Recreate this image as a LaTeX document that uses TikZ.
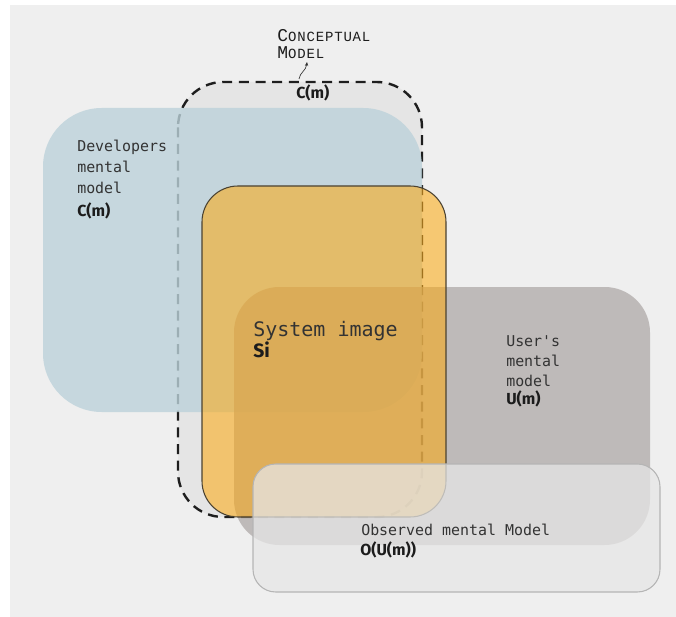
\documentclass[tikz,border=0pt]{standalone}
\usepackage{fontspec}
\setmonofont{DejaVu Sans Mono}
\newfontfamily\slabfont{Liberation Mono}[LetterSpace=6]
\newfontfamily\tagfont{Fira Sans}
\usetikzlibrary{arrows.meta}

\definecolor{paper}{HTML}{EFEFEF}
\definecolor{conceptfill}{HTML}{E5E5E5}
\definecolor{dashink}{HTML}{1E1E1E}
\definecolor{devblue}{HTML}{BCD2DA}
\definecolor{sysorange}{HTML}{FDA80D}
\definecolor{sysline}{HTML}{4A4232}
\definecolor{usergray}{HTML}{ACA6A5}
\definecolor{obsfill}{HTML}{E6E6E6}
\definecolor{obsline}{HTML}{B5B5B5}
\definecolor{ink}{HTML}{333333}
\definecolor{inkdark}{HTML}{1C1C1C}

\begin{document}
\begin{tikzpicture}[x=0.75pt,y=-0.75pt,
  txt/.style={anchor=base west, inner sep=0pt, text=ink,
    font=\ttfamily\fontsize{11.2}{13}\selectfont},
  bigtxt/.style={anchor=base west, inner sep=0pt, text=ink,
    font=\ttfamily\fontsize{15}{17}\selectfont},
  tag/.style={anchor=base west, inner sep=0pt, text=inkdark,
    font=\tagfont\bfseries\fontsize{12}{14}\selectfont},
  bigtag/.style={anchor=base west, inner sep=0pt, text=inkdark,
    font=\tagfont\bfseries\fontsize{14.5}{16}\selectfont},
  slab/.style={anchor=base west, inner sep=0pt, text=inkdark}]

% canvas
\fill[white] (0,0) rectangle (676,617);
\fill[paper] (10,5) rectangle (676,617);
\useasboundingbox (0,0) rectangle (676,617);

% conceptual model (dashed)
\fill[conceptfill, rounded corners=34pt] (178,82) rectangle (422,517);
\draw[dashink, line width=1.8pt, dash pattern=on 7.5pt off 5pt,
  rounded corners=34pt] (178,82) rectangle (422,517);

% developers mental model
\fill[devblue, fill opacity=0.8, rounded corners=44pt] (43,108) rectangle (422,412);

% user's mental model
\fill[usergray, fill opacity=0.72, rounded corners=34pt] (234,287) rectangle (650,545);

% system image
\fill[sysorange, fill opacity=0.55, rounded corners=27pt] (202,186) rectangle (446,517);
\draw[sysline, line width=0.8pt, rounded corners=27pt] (202,186) rectangle (446,517);

% observed mental model
\filldraw[fill=obsfill, fill opacity=0.75, draw=obsline, line width=0.8pt,
  rounded corners=17pt] (253,464) rectangle (660,592);

% labels
\node[slab] (conc) at (277,42)
  {\slabfont{\fontsize{13.5}{14}\selectfont C}{\fontsize{10.5}{11}\selectfont ONCEPTUAL}};
\node[slab] (concm) at (277,59)
  {\slabfont{\fontsize{13.5}{14}\selectfont M}{\fontsize{10.5}{11}\selectfont ODEL}};
\node[tag] (cmtop) at (296,99) {C(m)};
\coordinate (ptail) at (299,79);
\coordinate (phead) at (307,62);
\draw[ink, line width=0.5pt, -{Stealth[length=3pt,width=2.5pt]}]
  (ptail) .. controls (300,72) and (306,71) .. (phead);

\node[txt] (dev1) at (77,152) {Developers};
\node[txt] (dev2) at (77,173) {mental};
\node[txt] (dev3) at (77,194) {model};
\node[tag] (dev4) at (77,217) {C(m)};

\node[bigtxt] (sys1) at (253,336) {System image};
\node[bigtag] (sys2) at (253,358) {Si};

\node[txt] (usr1) at (506,346) {User's};
\node[txt] (usr2) at (506,366) {mental};
\node[txt] (usr3) at (506,386) {model};
\node[tag] (usr4) at (506,404) {U(m)};

\node[txt] (obs1) at (361,535) {Observed mental Model};
\node[tag] (obs2) at (360,555) {O(U(m))};
\end{tikzpicture}
\end{document}
